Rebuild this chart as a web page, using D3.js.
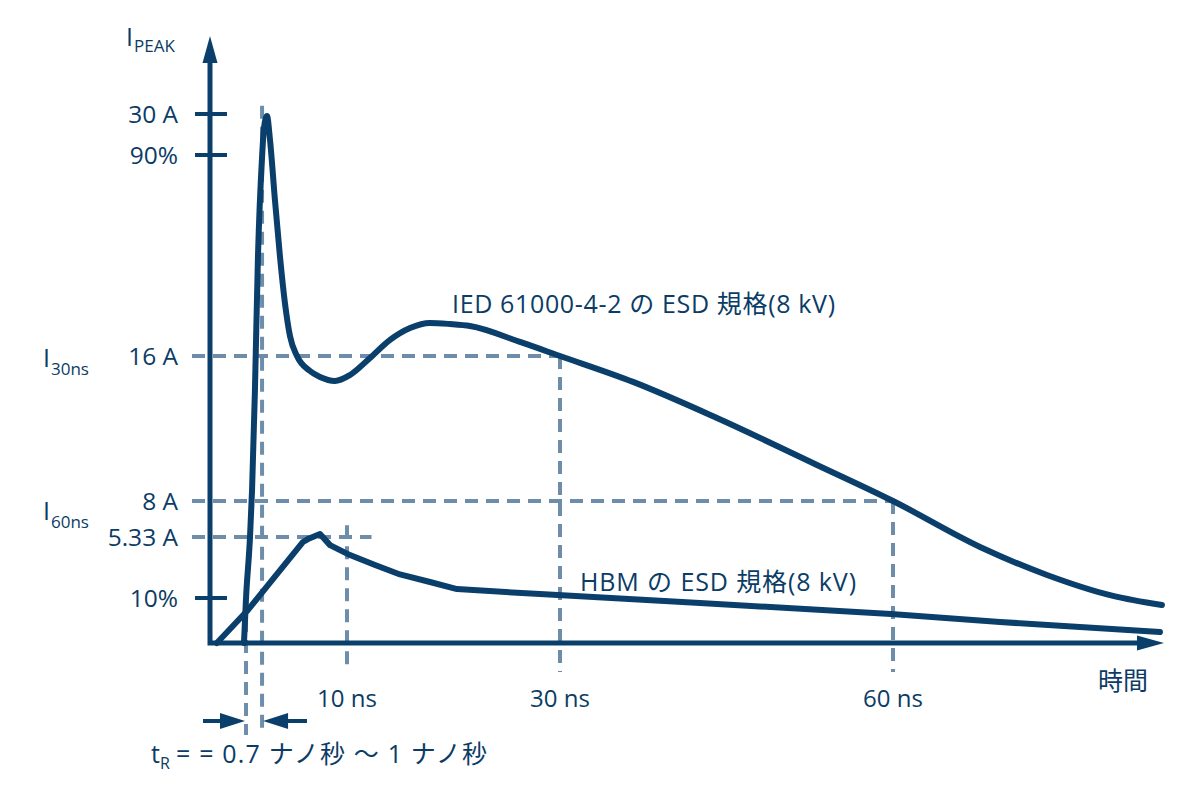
<!DOCTYPE html>
<html><head><meta charset="utf-8">
<script src="https://cdn.jsdelivr.net/npm/d3@7"></script>
<style>
html,body{margin:0;padding:0;background:#fff;}
text{font-family:"Open Sans","Noto Sans CJK JP",sans-serif;fill:#0b3c66;}
</style></head>
<body>
<svg id="chart" width="1200" height="793"></svg>
<script>
// ---- data ----
const iecTime = [2.48,2.63,2.92,3.07,3.28,3.50,3.80,3.94,4.16,4.38,4.74,5.11,5.47,5.84,6.35,7.30,8.03,9.12,10.28,12.16,14.04,15.92,17.79,19.67,21.55,26.24,30,36.58,44.14,53.15,60,67.84,73.87,79.82,84.23];
const iecCurrent = [0,3,5.33,8.61,14.12,21.42,26.89,28.98,29.85,28.10,24.54,21.42,18.90,17.09,16.0,15.17,14.84,14.62,14.95,15.89,16.88,17.53,17.81,17.75,17.64,16.77,16.0,14.57,12.58,9.99,8.0,4.95,3.88,3.08,2.53];
const hbmTime = [0.5,2.70,6.79,7.15,8.03,8.76,10.28,12.63,14.98,17.79,20.33,28.12,42.61,59.82,69.64,84.05];
const hbmCurrent = [0,2.13,5.14,5.25,5.55,5.02,4.64,4.26,3.90,3.61,3.34,3.15,2.67,1.93,1.40,0.73];
const yTickValues = [30,27,16,8,5.33,3];
const yTickLabels = ["30 A","90%","16 A","8 A","5.33 A","10%"];
const yTickMarked = [true,true,false,false,false,true];
const xTickValues = [10,30,60];
const xTickLabels = ["10 ns","30 ns","60 ns"];
const riseTimes = [2.63,3.80];
const seriesLabels = ["IED 61000-4-2 の ESD 規格(8 kV)","HBM の ESD 規格(8 kV)"];

// ---- scales ----
const x = d3.scaleLinear().domain([0,10,30,60]).range([210,347,560,893]);
const y = d3.scaleLinear().domain([0,3,5.33,8,16,27,30]).range([643,598,537,501,356,155,114]);

const svg = d3.select("#chart");
const navy = "#0b3f6b", dashC = "#6d8daa";

// dashed reference lines
const dashG = svg.append("g").attr("stroke",dashC).attr("stroke-width",4).attr("stroke-dasharray","13,8").attr("fill","none");
const xLeft = 192, yBelow = 672;
function hline(v, tEnd){ dashG.append("line").attr("x1",xLeft).attr("x2",x(tEnd)).attr("y1",y(v)).attr("y2",y(v)); }
function vline(t, vTop, yEnd){ dashG.append("line").attr("x1",x(t)).attr("x2",x(t)).attr("y1",y(vTop)).attr("y2",yEnd); }
hline(16,30); vline(30,16,yBelow);
hline(8,60); vline(60,8,yBelow);
hline(5.33,12.3); vline(10,6.2,yBelow);
vline(riseTimes[0],3,735);
vline(riseTimes[1],30.6,735);

// axes
const ax = svg.append("g").attr("stroke",navy).attr("stroke-width",5).attr("fill","none");
ax.append("path").attr("d",`M${x(0)},${y(0)-2} V62 M${x(0)-2.5},${y(0)} H1140`);
svg.append("path").attr("fill",navy).attr("d",`M${x(0)},36 L${x(0)+7.5},63 L${x(0)-7.5},63 Z`);
svg.append("path").attr("fill",navy).attr("d",`M1164,${y(0)} L1137,${y(0)-7.5} L1137,${y(0)+7.5} Z`);

// y ticks
yTickValues.forEach((v,i)=>{
  if(yTickMarked[i]) ax.append("line").attr("stroke-width",4).attr("x1",195).attr("x2",227).attr("y1",y(v)).attr("y2",y(v));
  svg.append("text").attr("x",178).attr("y",y(v)+9).attr("text-anchor","end").attr("font-size",24.5).text(yTickLabels[i]);
});
// x tick labels
xTickValues.forEach((t,i)=>{
  svg.append("text").attr("x",x(t)).attr("y",707).attr("text-anchor","middle").attr("font-size",24).text(xTickLabels[i]);
});
svg.append("text").attr("x",1123).attr("y",690).attr("text-anchor","middle").attr("font-size",25).text("時間");

// axis title
const tp = svg.append("text").attr("x",126).attr("y",46).attr("font-size",25);
tp.append("tspan").text("I");
tp.append("tspan").attr("font-size",17).attr("dy",6).attr("dx",1).text("PEAK");
function sub(label, s, yy){
  const t = svg.append("text").attr("x",43).attr("y",yy).attr("font-size",25);
  t.append("tspan").text(label);
  t.append("tspan").attr("font-size",17).attr("dy",8).attr("dx",1).text(s);
}
sub("I","30ns",367);
sub("I","60ns",520);

// curves
const curveG = svg.append("g").attr("fill","none").attr("stroke",navy).attr("stroke-width",6).attr("stroke-linecap","round").attr("stroke-linejoin","round");
curveG.append("path").attr("d",d3.line().x(d=>x(d[0])).y(d=>y(d[1])).curve(d3.curveMonotoneX)(iecTime.map((t,i)=>[t,iecCurrent[i]])));
curveG.append("path").attr("d",d3.line().x(d=>x(d[0])).y(d=>y(d[1])).curve(d3.curveLinear)(hbmTime.map((t,i)=>[t,hbmCurrent[i]])));

// series labels
svg.append("text").attr("x",452).attr("y",313).attr("font-size",25).attr("textLength",383).attr("lengthAdjust","spacing").text(seriesLabels[0]);
svg.append("text").attr("x",580).attr("y",591).attr("font-size",25).attr("textLength",276).attr("lengthAdjust","spacing").text(seriesLabels[1]);

// rise time arrows
const ay = 721;
const arr = svg.append("g").attr("stroke",navy).attr("stroke-width",4);
arr.append("line").attr("x1",203).attr("x2",228).attr("y1",ay).attr("y2",ay);
svg.append("path").attr("fill",navy).attr("d",`M${x(riseTimes[0])-1},${ay} L${x(riseTimes[0])-26},${ay-8} L${x(riseTimes[0])-26},${ay+8} Z`);
arr.append("line").attr("x1",x(riseTimes[1])+20).attr("x2",307).attr("y1",ay).attr("y2",ay);
svg.append("path").attr("fill",navy).attr("d",`M${x(riseTimes[1])+1},${ay} L${x(riseTimes[1])+26},${ay-8} L${x(riseTimes[1])+26},${ay+8} Z`);

const tr = svg.append("text").attr("x",151).attr("y",763).attr("font-size",25);
tr.append("tspan").text("t");
tr.append("tspan").attr("font-size",16).attr("dy",6).text("R");
tr.append("tspan").attr("x",176).attr("dy",-6).attr("textLength",311).attr("lengthAdjust","spacing").text("= = 0.7 ナノ秒 ～ 1 ナノ秒");
</script>
</body></html>
